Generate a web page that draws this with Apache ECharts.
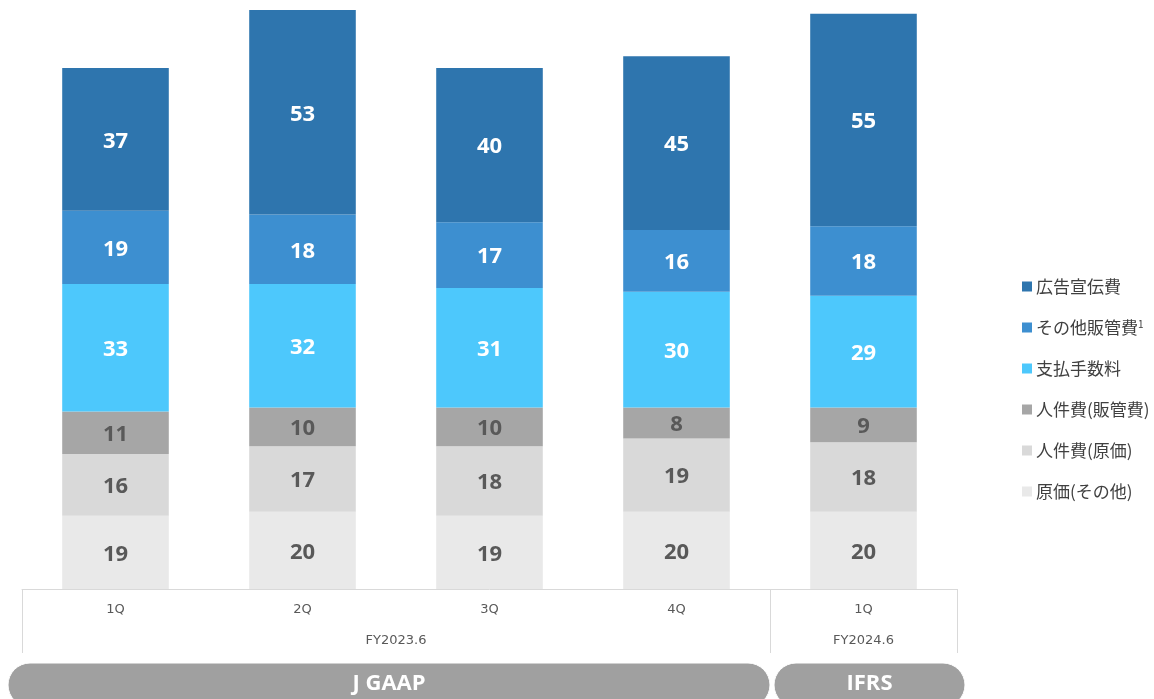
<!DOCTYPE html>
<html>
<head>
<meta charset="utf-8">
<script src="https://cdn.jsdelivr.net/npm/echarts@6/dist/echarts.min.js"></script>
<style>
  html, body { margin: 0; padding: 0; background: #ffffff; }
  #chart { width: 1154px; height: 699px; }
</style>
</head>
<body>
<div id="chart"></div>
<script>
// Quarter labels on the category axis
const quarters = ['1Q', '2Q', '3Q', '4Q', '1Q'];
// Fiscal-year groups: label and how many quarters each spans
const fiscalYears = ['FY2023.6', 'FY2024.6'];
const fiscalSpans = [4, 1];
// Accounting standards band under the table (same spans)
const standards = ['J GAAP', 'IFRS'];

// Cost components, stacked bottom to top
const seriesNames = ['原価(その他)', '人件費(原価)', '人件費(販管費)', '支払手数料', 'その他販管費', '広告宣伝費'];
const costOther   = [19, 20, 19, 20, 20];
const laborCogs   = [16, 17, 18, 19, 18];
const laborSga    = [11, 10, 10, 8, 9];
const paymentFees = [33, 32, 31, 30, 29];
const otherSga    = [19, 18, 17, 16, 18];
const advertising = [37, 53, 40, 45, 55];

const seriesValues = [costOther, laborCogs, laborSga, paymentFees, otherSga, advertising];
const colors = ['#E9E9E9', '#D9D9D9', '#A6A6A6', '#4DC8FC', '#3D8FD0', '#2E75AE'];
const labelColors = ['#595959', '#595959', '#595959', '#ffffff', '#ffffff', '#ffffff'];

const chart = echarts.init(document.getElementById('chart'), null, { renderer: 'canvas' });

const option = {
  animation: false,
  backgroundColor: '#ffffff',
  grid: { left: 22, right: 197, top: 10, bottom: 110, containLabel: false },
  legend: {
    orient: 'vertical',
    left: 1017,
    top: 273,
    padding: 5,
    itemWidth: 10,
    itemHeight: 10,
    itemGap: 24,
    icon: 'rect',
    data: seriesNames.slice().reverse(),
    formatter: function (name) {
      return name === 'その他販管費' ? '{t|' + name + '}{s|1}' : '{t|' + name + '}';
    },
    textStyle: {
      color: '#404040',
      fontSize: 17,
      fontFamily: 'Noto Sans CJK JP',
      padding: [0, 0, 0, -1],
      rich: {
        t: { fontSize: 17, color: '#404040', fontFamily: 'Noto Sans CJK JP' },
        s: { fontSize: 10, color: '#404040', fontFamily: 'Noto Sans CJK JP', verticalAlign: 'top', padding: [0, 0, 4, 0] }
      }
    }
  },
  xAxis: {
    type: 'category',
    data: quarters.map((q, i) => i),
    axisLine: { show: true, lineStyle: { color: '#D9D9D9', width: 1 } },
    axisTick: { show: false },
    axisLabel: {
      formatter: (v, i) => quarters[i],
      color: '#595959',
      fontSize: 13,
      fontFamily: 'DejaVu Sans',
      margin: 14
    }
  },
  yAxis: {
    type: 'value',
    min: 0,
    max: 150,
    show: false,
    splitLine: { show: false }
  },
  series: seriesNames.map((name, k) => ({
    name: name,
    type: 'bar',
    stack: 'cost',
    barWidth: '57%',
    data: seriesValues[k],
    itemStyle: { color: colors[k] },
    label: {
      show: true,
      position: 'inside',
      offset: [0, 2],
      color: labelColors[k],
      fontSize: 22,
      fontWeight: 'bold',
      fontFamily: 'Open Sans'
    },
    emphasis: { disabled: true }
  }))
};

chart.setOption(option);

// Table frame, fiscal-year labels and accounting-standard bands under the axis
function drawTable() {
  const half = chart.convertToPixel({ xAxisIndex: 0 }, 1) - chart.convertToPixel({ xAxisIndex: 0 }, 0);
  const x0 = chart.convertToPixel({ xAxisIndex: 0 }, 0) - half / 2;
  const axisY = chart.convertToPixel({ yAxisIndex: 0 }, 0);
  const elements = [];
  const lineStyle = { stroke: '#D9D9D9', lineWidth: 1 };
  let start = 0;
  const bounds = [x0];
  fiscalSpans.forEach((span, g) => {
    const left = x0 + start * half;
    const right = x0 + (start + span) * half;
    bounds.push(right);
    elements.push({
      type: 'text',
      x: (left + right) / 2,
      y: axisY + 52,
      style: {
        text: fiscalYears[g],
        fill: '#595959',
        font: '13px "DejaVu Sans"',
        align: 'center',
        verticalAlign: 'middle'
      }
    });
    // rounded band for the accounting standard
    const pillLeft = g === 0 ? 8 : left + 4;
    const pillRight = g === 0 ? right : right + 8;
    elements.push({
      type: 'rect',
      shape: { x: pillLeft, y: 663, width: pillRight - pillLeft, height: 44, r: 22 },
      style: { fill: '#A0A0A0', stroke: '#ffffff', lineWidth: 1 }
    });
    elements.push({
      type: 'text',
      x: (pillLeft + pillRight) / 2,
      y: 684,
      style: {
        text: standards[g],
        fill: '#ffffff',
        font: 'bold 22px "Open Sans"',
        align: 'center',
        verticalAlign: 'middle'
      }
    });
    start += span;
  });
  bounds.forEach((bx) => {
    const x = Math.round(bx) + 0.5;
    elements.push({
      type: 'line',
      shape: { x1: x, y1: axisY, x2: x, y2: axisY + 64 },
      style: lineStyle
    });
  });
  chart.setOption({ graphic: { elements: elements } });
}
drawTable();
</script>
</body>
</html>
